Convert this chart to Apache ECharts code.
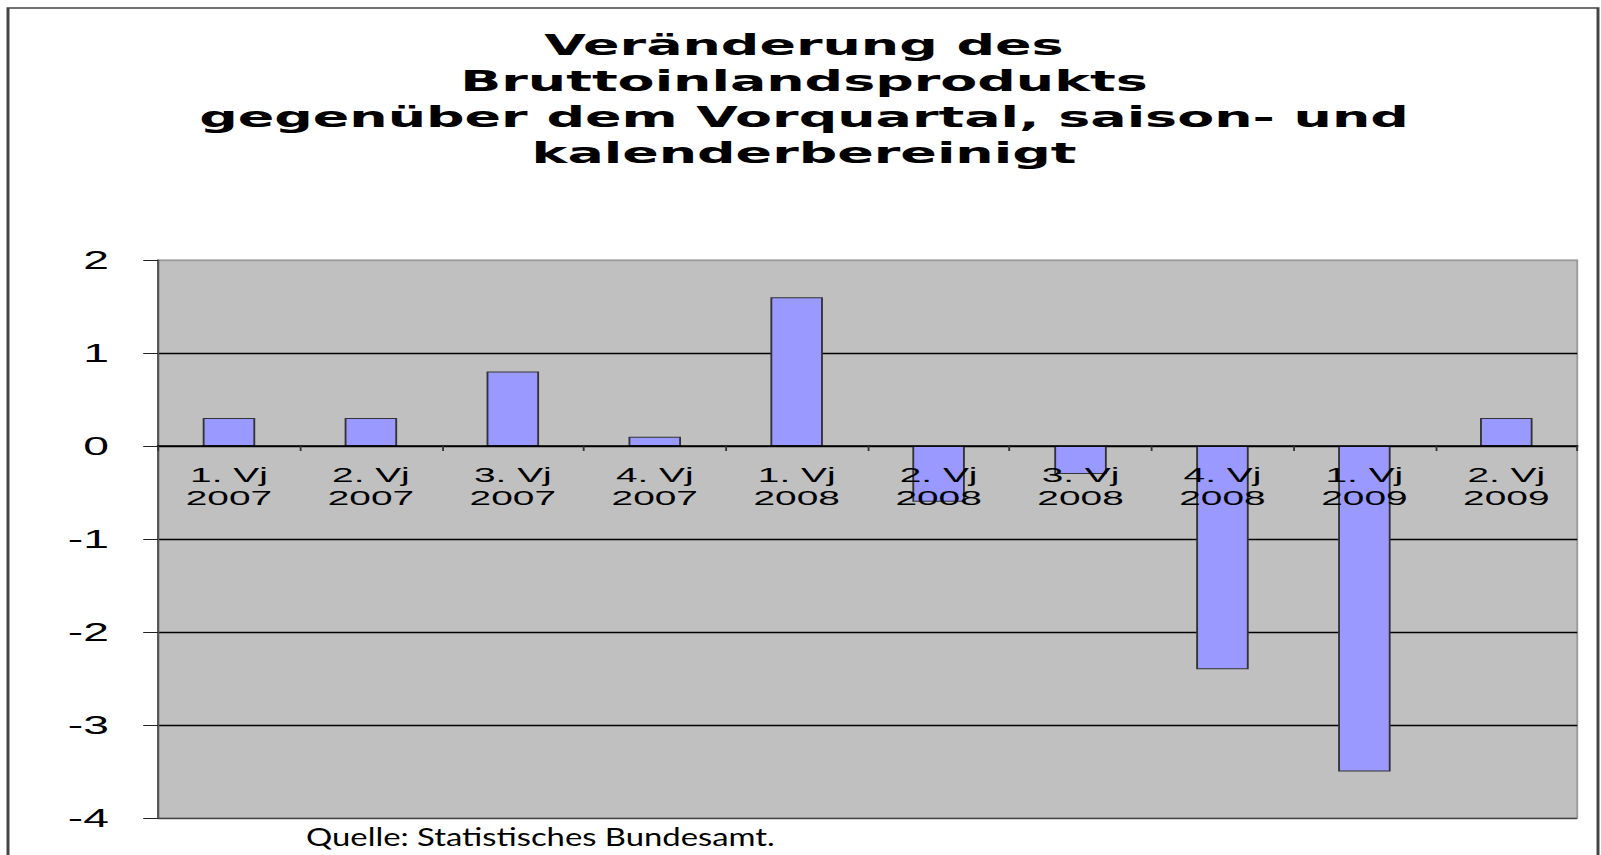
<!DOCTYPE html>
<html>
<head>
<meta charset="utf-8">
<script src="https://cdn.jsdelivr.net/npm/echarts@6/dist/echarts.min.js"></script>
<style>
	html, body { margin: 0; padding: 0; background: #fff; overflow: hidden; }
	/* das Original ist horizontal gestreckt */
	#main { width: 865.4px; height: 855px; transform: scaleX(1.85); transform-origin: 0 0; }
</style>
</head>
<body>
<div id="main"></div>
<script>
var titleLines = ['Veränderung des', 'Bruttoinlandsprodukts', 'gegenüber dem Vorquartal, saison- und', 'kalenderbereinigt'];
var categories = ['1. Vj\n2007', '2. Vj\n2007', '3. Vj\n2007', '4. Vj\n2007', '1. Vj\n2008', '2. Vj\n2008', '3. Vj\n2008', '4. Vj\n2008', '1. Vj\n2009', '2. Vj\n2009'];
var values = [0.3, 0.3, 0.8, 0.1, 1.6, -0.6, -0.3, -2.4, -3.5, 0.3];
var yMin = -4, yMax = 2, yStep = 1;
var source = 'Quelle: Statistisches Bundesamt.';

var S = 1.85;
var plotTop = 260, plotBottom = 818;
// Lage der Nulllinie, damit die Kategorieachse dort sitzt
var zeroOffset = (plotBottom - plotTop) * (0 - yMin) / (yMax - yMin);

var myChart = echarts.init(document.getElementById('main'), null, { renderer: 'svg' });

var option = {
	animation: false,
	graphic: [
		{
			type: 'rect',
			shape: { x: 8 / S, y: 8, width: 1590 / S, height: 900 },
			style: { fill: 'none', stroke: '#444', lineWidth: 1.6 },
			silent: true
		},
		{
			type: 'text',
			x: 804 / S,
			y: 27,
			scaleX: 1.04,
			style: {
				text: titleLines.join('\n'),
				font: 'bold 28px "DejaVu Sans"',
				fill: '#000',
				align: 'center',
				verticalAlign: 'top',
				lineHeight: 36
			}
		},
		{
			type: 'text',
			x: 306 / S,
			y: 849,
			scaleX: 0.71,
			style: {
				text: source,
				font: '25px Lato',
				fill: '#000',
				align: 'left',
				verticalAlign: 'bottom'
			}
		}
	],
	grid: {
		left: 158 / S,
		right: 865.4 - 1578 / S,
		top: plotTop,
		bottom: 855 - plotBottom,
		show: true,
		backgroundColor: '#c0c0c0',
		borderColor: '#9a9a9a',
		borderWidth: 1
	},
	xAxis: {
		type: 'category',
		data: categories,
		position: 'bottom',
		offset: -zeroOffset,
		z: 5,
		axisLine: { onZero: false, lineStyle: { color: '#000', width: 1.5 } },
		axisTick: { show: true, length: 5, lineStyle: { color: '#333' } },
		axisLabel: {
			color: '#000',
			fontFamily: '"Liberation Sans", Arial',
			fontSize: 21,
			lineHeight: 23,
			margin: 17
		}
	},
	yAxis: {
		type: 'value',
		min: yMin,
		max: yMax,
		interval: yStep,
		axisLine: { show: true, lineStyle: { color: '#555', width: 1.2 } },
		axisTick: { show: true, length: 8, lineStyle: { color: '#222' } },
		axisLabel: {
			color: '#000',
			fontFamily: '"Liberation Sans", Arial',
			fontSize: 25,
			margin: 26.5
		},
		splitLine: {
			show: true,
			lineStyle: { color: ['#444', '#000', '#000', '#000', '#000', '#000', '#9a9a9a'], width: 1.3 }
		}
	},
	series: [{
		type: 'bar',
		data: values,
		barWidth: '37%',
		itemStyle: { color: '#9999ff', borderColor: '#333', borderWidth: 1 }
	}]
};

myChart.setOption(option);
</script>
</body>
</html>
